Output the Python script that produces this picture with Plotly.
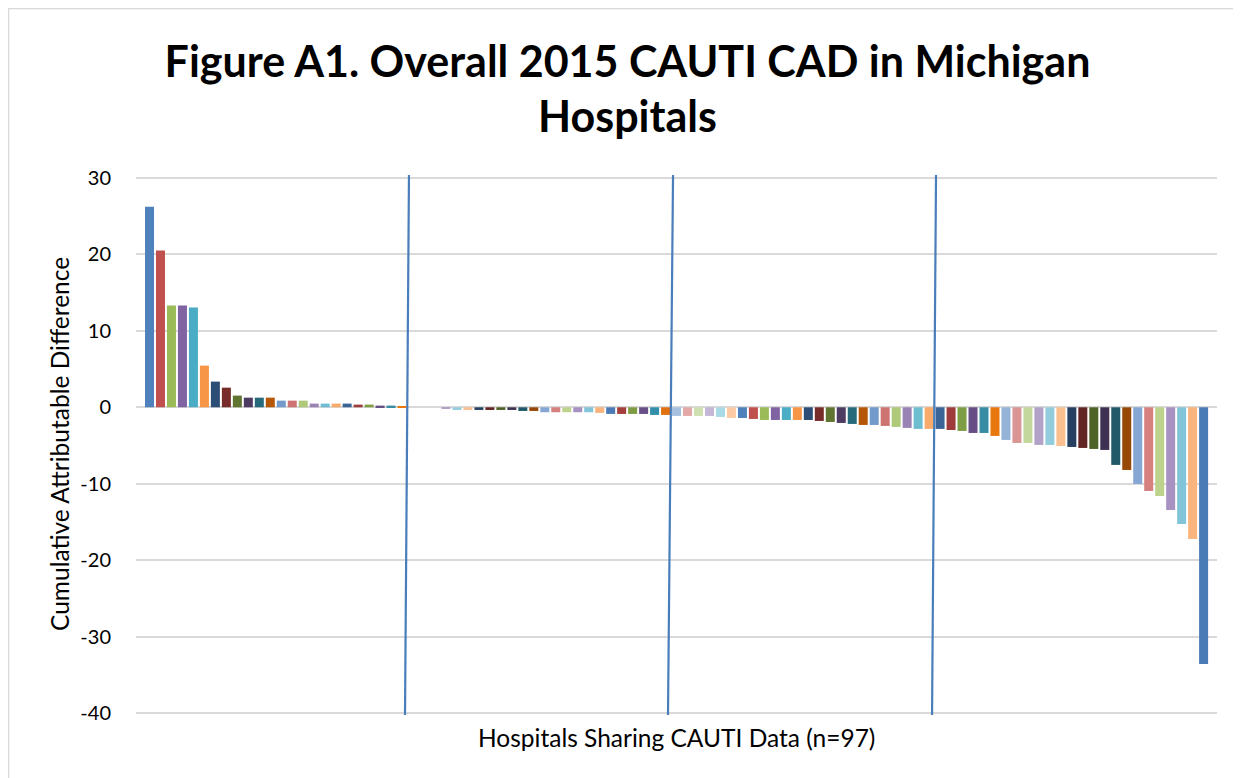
import plotly.graph_objects as go

# ---------------- data ----------------
hospitals = list(range(1, 98))  # 97 hospitals sharing CAUTI data
cad_values = [
    26.25, 20.5, 13.3, 13.3, 13.04, 5.45, 3.36, 2.57, 1.53, 1.26, 1.26, 1.26,
    0.87, 0.87, 0.87, 0.48, 0.48, 0.48, 0.48, 0.35, 0.35, 0.22, 0.22, 0.09,
    0.0, 0.0, 0.0,
    -0.22, -0.35, -0.35, -0.35, -0.35, -0.35, -0.35, -0.48, -0.48,
    -0.65, -0.65, -0.65, -0.65, -0.65, -0.74,
    -0.87, -0.87, -0.87, -0.87, -1.0, -1.0,
    -1.13, -1.13, -1.13, -1.13, -1.26, -1.4,
    -1.4, -1.53, -1.66, -1.66, -1.66, -1.66,
    -1.66, -1.79, -1.92, -2.05, -2.18, -2.31,
    -2.31, -2.44, -2.57, -2.7, -2.83, -2.83,
    -2.83, -2.97, -3.1, -3.36, -3.36, -3.75,
    -4.27, -4.67, -4.67, -4.93, -4.93, -5.06,
    -5.19, -5.32, -5.45, -5.58, -7.54, -8.2,
    -10.03, -10.95, -11.6, -13.43, -15.26, -17.23,
    -33.58,
]
y_ticks = [-40, -30, -20, -10, 0, 10, 20, 30]
y_tick_labels = ["-40", "-30", "-20", "-10", "0", "10", "20", "30"]

title_text = "Figure A1. Overall 2015 CAUTI CAD in Michigan<br>Hospitals"
y_title = "Cumulative Attributable Difference"
x_title = "Hospitals Sharing CAUTI Data (n=97)"

# Excel "vary colours by point" palette (repeats every 54 points)
palette = [
    "#4F81BD", "#C0504D", "#9BBB59", "#8064A2", "#4BACC6", "#F79646",
    "#2C4D75", "#772C2A", "#5F7530", "#4D3B62", "#276A7C", "#B65708",
    "#729ACA", "#CD7371", "#AFC97A", "#9983B5", "#6FBDD1", "#F9AB6B",
    "#3A6596", "#9D3C3A", "#7E9D44", "#654F85", "#378CA4", "#E8780E",
    "#95B3D7", "#D99694", "#C3D69B", "#B3A2C7", "#93CDDD", "#FAC090",
    "#254061", "#632523", "#4F6228", "#3F3151", "#215968", "#974806",
    "#86A7D3", "#D68180", "#BDD38D", "#A892C2", "#82C5D8", "#F9B57D",
    "#4A7BB7", "#A53F3C", "#7F9C45", "#684F88", "#3290AA", "#E07010",
    "#A7C0E0", "#E4A8A7", "#CFE0B0", "#C3B6D7", "#A9DAE6", "#FCCBA6",
]
bar_colors = [palette[i % len(palette)] for i in range(len(hospitals))]

# ---------------- layout geometry (screen pixels) ----------------
OFF = 8                      # page body margin
W, H = 1241 - OFF, 778 - OFF  # figure size
PL, PR, PT, PB = 136, 1217, 175, 715   # plot area in screen pixels
pw, ph = PR - PL, PB - PT


def px_x(px):
    return (px - PL) / pw


def px_y(py):
    return (PB - py) / ph


FONT = "Lato, Calibri, Carlito, sans-serif"

fig = go.Figure()
fig.add_trace(go.Bar(
    x=hospitals,
    y=cad_values,
    marker=dict(color=bar_colors, line=dict(width=0)),
    width=0.82,
    hoverinfo="x+y",
))

# divider lines (drawn shapes in the original)
dividers = [(24.63, 24.27), (48.68, 48.22), (72.63, 72.27)]
shapes = []
for top_x, bot_x in dividers:
    shapes.append(dict(type="line", xref="x", yref="y",
                       x0=top_x, x1=bot_x, y0=30.39, y1=-40.26,
                       line=dict(color="#4A7EBB", width=2.2), layer="above"))
# chart-area border
shapes.append(dict(type="rect", xref="paper", yref="paper",
                   x0=px_x(8.5), x1=px_x(1260), y0=px_y(8.5), y1=px_y(800),
                   line=dict(color="#D9D9D9", width=1.5), layer="below"))

annotations = [
    dict(text=y_title, xref="paper", yref="paper", x=px_x(59), y=px_y(444),
         textangle=-90, showarrow=False, xanchor="center", yanchor="middle",
         font=dict(family=FONT, size=24.5, color="#000000")),
    dict(text=x_title, xref="paper", yref="paper", x=px_x(676.5), y=px_y(737),
         showarrow=False, xanchor="center", yanchor="middle",
         font=dict(family=FONT, size=24.5, color="#000000")),
]

fig.update_layout(
    width=W, height=H,
    margin=dict(l=PL - OFF, r=1241 - PR, t=PT - OFF, b=778 - PB, pad=0),
    paper_bgcolor="#FFFFFF",
    plot_bgcolor="#FFFFFF",
    showlegend=False,
    title=dict(text=title_text, x=(627.5 - OFF) / W, xanchor="center",
               y=1 - 68.5 / H, yanchor="middle", yref="container",
               font=dict(family=FONT, size=43, color="#000000", weight="bold")),
    xaxis=dict(range=[1 - 1.23, 97 + 1.22], showticklabels=False, showgrid=False,
               zeroline=False, showline=False, ticks=""),
    yaxis=dict(range=[-40.26, 30.39], tickvals=y_ticks, ticktext=y_tick_labels,
               showgrid=True, gridcolor="#D9D9D9", gridwidth=1.5,
               zeroline=True, zerolinecolor="#D9D9D9", zerolinewidth=1.5,
               showline=False, ticks="", ticklabelstandoff=24,
               tickfont=dict(family=FONT, size=20, color="#000000")),
    shapes=shapes,
    annotations=annotations,
)

fig.write_html("out.html")
